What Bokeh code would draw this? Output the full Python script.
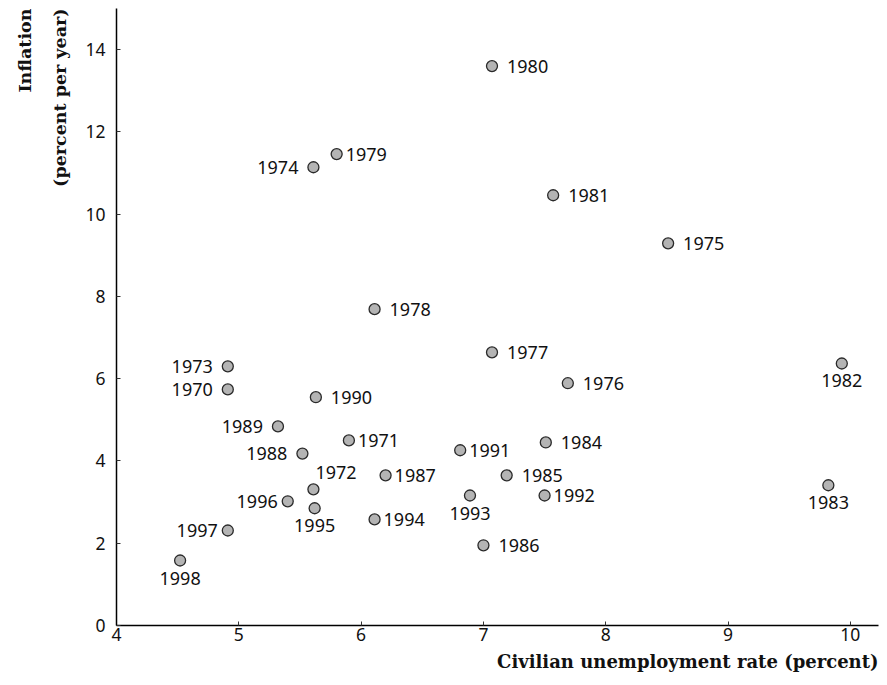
from bokeh.plotting import figure
from bokeh.models import ColumnDataSource, FixedTicker, Range1d, Title
from bokeh.core.properties import value
from bokeh.embed import file_html
from bokeh.resources import INLINE

years = [str(y) for y in range(1970, 1999)]
unemployment = [4.91, 5.90, 5.61, 4.91, 5.61, 8.51, 7.69, 7.07, 6.11, 5.80,
                7.07, 7.57, 9.93, 9.82, 7.51, 7.19, 7.00, 6.20, 5.52, 5.32,
                5.63, 6.81, 7.50, 6.89, 6.11, 5.62, 5.40, 4.91, 4.52]
inflation = [5.74, 4.50, 3.31, 6.30, 11.14, 9.29, 5.89, 6.64, 7.69, 11.46,
             13.60, 10.46, 6.37, 3.41, 4.45, 3.65, 1.95, 3.65, 4.18, 4.84,
             5.55, 4.26, 3.16, 3.16, 2.58, 2.85, 3.02, 2.31, 1.58]
# label side: R = right (wide), r = right (near), L = left (wide), l = left (near), B = below, T = above
label_side = ["L", "r", "T", "L", "L", "R", "R", "R", "R", "r",
              "R", "R", "B", "B", "R", "R", "R", "r", "L", "L",
              "R", "r", "r", "B", "r", "B", "l", "l", "B"]
x_ticks = [4, 5, 6, 7, 8, 9, 10]
y_ticks = [0, 2, 4, 6, 8, 10, 12, 14]
x_title = "Civilian unemployment rate (percent)"
y_title_1 = "Inflation"
y_title_2 = "(percent per year)"

placement = {
    "R": (15, 0, "left", "middle"),
    "r": (9, 0, "left", "middle"),
    "L": (-15, 0, "right", "middle"),
    "l": (-10, 0, "right", "middle"),
    "B": (0, 11, "center", "top"),
    "T": (2, -10, "left", "bottom"),
}

src = ColumnDataSource(dict(
    x=unemployment, y=inflation, year=years,
    dx=[placement[s][0] for s in label_side],
    dy=[placement[s][1] for s in label_side],
    align=[placement[s][2] for s in label_side],
    base=[placement[s][3] for s in label_side],
))

p = figure(width=886, height=684, output_backend="svg", toolbar_location=None,
           x_range=Range1d(4, 10.23), y_range=Range1d(0, 15.0),
           min_border_left=116, min_border_right=8, min_border_top=8,
           min_border_bottom=59)
p.outline_line_color = None
p.grid.visible = False
p.background_fill_color = "white"

p.scatter("x", "y", source=src, marker="circle", size=11,
          fill_color="#b4b4b4", line_color="#2a2a2a", line_width=1.3)
p.text("x", "y", text="year", source=src, x_offset="dx", y_offset="dy",
       text_align="align", text_baseline="base",
       text_font=value("Noto Sans"), text_font_size="18px", text_color="#111111")

for ax in (p.xaxis[0], p.yaxis[0]):
    ax.axis_line_color = "black"
    ax.axis_line_width = 1.5
    ax.major_tick_in = 4
    ax.major_tick_out = 0
    ax.major_tick_line_color = "#333333"
    ax.minor_tick_line_color = None
    ax.major_label_text_font = "Noto Sans"
    ax.major_label_text_font_size = "17.5px"
    ax.major_label_text_color = "#111111"

p.xaxis.ticker = FixedTicker(ticks=x_ticks)
p.yaxis.ticker = FixedTicker(ticks=y_ticks)
p.xaxis.major_label_standoff = 2
p.yaxis.major_label_standoff = 11

title_style = dict(text_font="DejaVu Serif", text_font_style="bold",
                   text_color="#111111", align="right")
p.add_layout(Title(text=x_title, standoff=11, text_font_size="18px", **title_style), "below")
p.add_layout(Title(text=y_title_2, standoff=26, text_font_size="17.5px", **title_style), "left")
p.add_layout(Title(text=y_title_1, standoff=0, text_font_size="17.5px", **title_style), "left")

open("out.html", "w").write(file_html(p, INLINE))
